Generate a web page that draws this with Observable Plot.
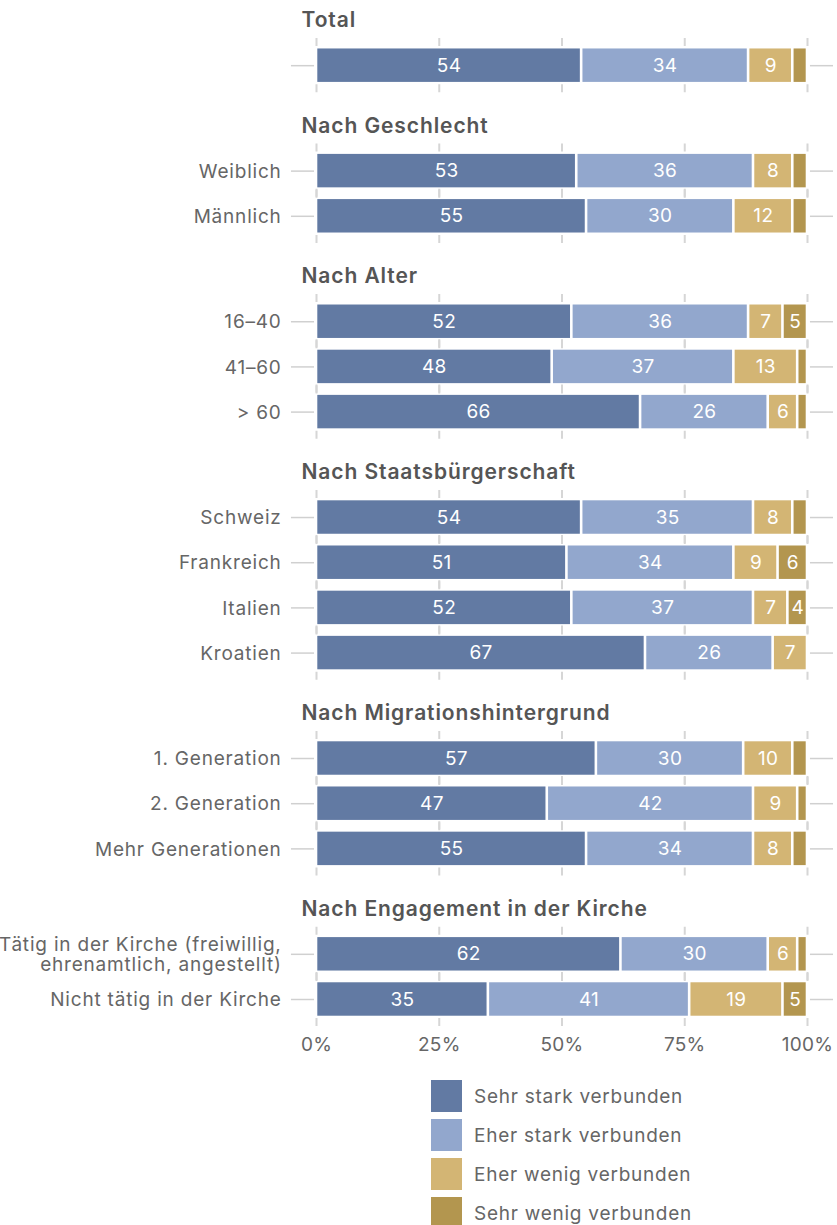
<!DOCTYPE html>
<html>
<head>
<meta charset="utf-8">
<script src="https://cdn.jsdelivr.net/npm/d3@7"></script>
<script src="https://cdn.jsdelivr.net/npm/@observablehq/plot@0.6"></script>
<style>
  body { margin: 0; background: #fff; font-family: Inter, "Noto Sans", sans-serif; }
  #legend { margin-left: 431px; margin-top: 10px; }
  .item { display: flex; align-items: center; height: 32px; margin-bottom: 7px; }
  .sw { width: 31px; height: 32px; margin-right: 12px; }
  .lab { font-size: 19px; color: #666; letter-spacing: 0.75px; }
  .rowlab text { letter-spacing: 0.8px; }
  .headlab text { letter-spacing: 0.9px; }
  .ticklab text { letter-spacing: 0.3px; }
</style>
</head>
<body>
<div id="chart"></div>
<div id="legend"></div>
<script>
const categories = ["Sehr stark verbunden", "Eher stark verbunden", "Eher wenig verbunden", "Sehr wenig verbunden"];
const colors = ["#627aa3", "#92a7cd", "#d3b574", "#b3964f"];
const groups = ["Total", "Nach Geschlecht", "Nach Alter", "Nach Staatsbürgerschaft", "Nach Migrationshintergrund", "Nach Engagement in der Kirche"];
const rowGroup = [0, 1, 1, 2, 2, 2, 3, 3, 3, 3, 4, 4, 4, 5, 5];
const rowLabels = ["", "Weiblich", "Männlich", "16–40", "41–60", "> 60", "Schweiz", "Frankreich", "Italien", "Kroatien",
  "1. Generation", "2. Generation", "Mehr Generationen",
  "Tätig in der Kirche (freiwillig,\nehrenamtlich, angestellt)", "Nicht tätig in der Kirche"];
const sehrStark = [54, 53, 55, 52, 48, 66, 54, 51, 52, 67, 57, 47, 55, 62, 35];
const eherStark = [34, 36, 30, 36, 37, 26, 35, 34, 37, 26, 30, 42, 34, 30, 41];
const eherWenig = [9, 8, 12, 7, 13, 6, 8, 9, 7, 7, 10, 9, 8, 6, 19];
const sehrWenig = [3, 3, 3, 5, 2, 2, 3, 6, 4, 0, 3, 2, 3, 2, 5];
const xTicks = [0, 25, 50, 75, 100];

// layout positions (row slots) derived from group structure
const headerPos = [];
const rowPos = [];
let p = 0;
groups.forEach((g, gi) => {
  headerPos.push(p);
  p += 1;
  rowGroup.forEach((rg, ri) => { if (rg === gi) { rowPos[ri] = p; p += 1; } });
  p += 1 / 3;
});
const lastPos = rowPos[rowPos.length - 1];
const axisPos = lastPos + 1;

const series = [sehrStark, eherStark, eherWenig, sehrWenig];
const segs = [];
rowLabels.forEach((lab, i) => {
  let cum = 0;
  series.forEach((s, k) => {
    const v = s[i];
    if (v > 0) segs.push({row: i, pos: rowPos[i], cat: categories[k], value: v, x1: cum, x2: cum + v});
    cum += v;
  });
});
const rows = rowLabels.map((l, i) => ({label: l, pos: rowPos[i]}));
const heads = groups.map((g, i) => ({label: g, pos: headerPos[i]}));
const gridCells = rows.flatMap(r => xTicks.map(t => ({x: t, pos: r.pos})));

const bh = 0.37;
const chart = Plot.plot({
  width: 837,
  height: 1070,
  margin: 0,
  x: {domain: [0, 100], range: [316, 807], axis: null},
  y: {domain: [0, lastPos], range: [20, 999], axis: null},
  color: {domain: categories, range: colors},
  style: {fontFamily: "Inter, 'Noto Sans', sans-serif", background: "white"},
  marks: [
    Plot.ruleX(gridCells, {x: "x", y1: d => d.pos - 0.6, y2: d => d.pos + 0.6, stroke: "#d6d6d6", strokeWidth: 2, strokeDasharray: "8,38.2,8"}),
    Plot.ruleY(rows, {y: "pos", x1: -5.1, x2: -0.4, stroke: "#d0d0d0", strokeWidth: 1.5}),
    Plot.ruleY(rows, {y: "pos", x1: 100.6, x2: 105.3, stroke: "#d0d0d0", strokeWidth: 1.5}),
    Plot.rect(segs, {x1: "x1", x2: "x2", y1: d => d.pos - bh, y2: d => d.pos + bh, fill: "cat", insetLeft: 1.3, insetRight: 1.3}),
    Plot.text(segs.filter(d => d.value >= 4), {x: d => (d.x1 + d.x2) / 2, y: "pos", text: d => String(d.value), fill: "white", fontSize: 19, className: "ticklab"}),
    Plot.text(rows, {x: -7.1, y: "pos", text: "label", textAnchor: "end", fill: "#666", fontSize: 19, lineHeight: 1.1, className: "rowlab"}),
    Plot.text(heads, {x: -3.05, y: "pos", text: "label", textAnchor: "start", fill: "#555", fontSize: 21, fontWeight: 600, className: "headlab"}),
    Plot.text(xTicks, {x: d => d, y: axisPos, text: d => d + "%", fill: "#666", fontSize: 19, className: "ticklab"})
  ]
});
document.getElementById("chart").appendChild(chart);

const legend = document.getElementById("legend");
categories.forEach((c, i) => {
  const item = document.createElement("div");
  item.className = "item";
  const sw = document.createElement("div");
  sw.className = "sw";
  sw.style.background = colors[i];
  const lab = document.createElement("span");
  lab.className = "lab";
  lab.textContent = c;
  item.appendChild(sw);
  item.appendChild(lab);
  legend.appendChild(item);
});
</script>
</body>
</html>
